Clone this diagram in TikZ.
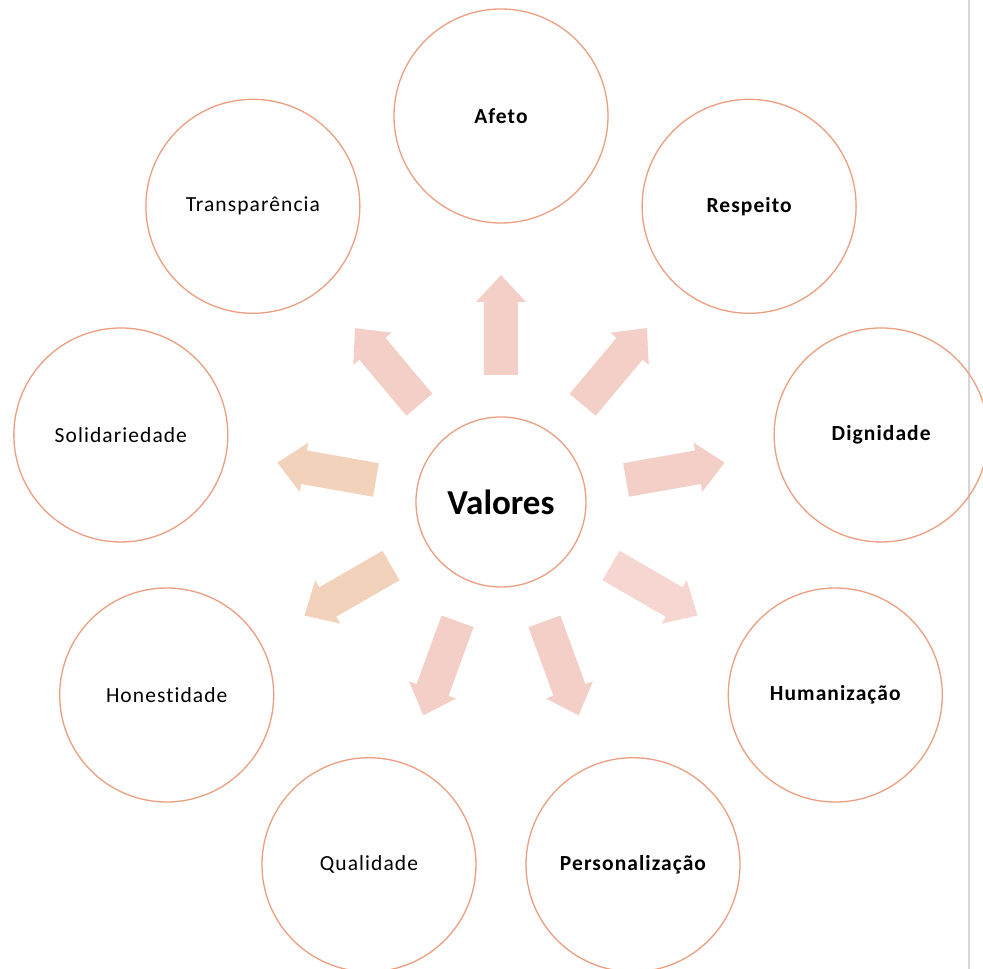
\documentclass[tikz,border=0pt]{standalone}
\usepackage{fontspec}
\setmainfont{Carlito}[LetterSpace=5,RawFeature=-liga]
\newfontfamily\hubfont{Carlito}
\definecolor{ring}{RGB}{236,158,128}
\definecolor{arrpink}{RGB}{243,207,199}
\definecolor{arrpeach}{RGB}{242,210,186}
\definecolor{arrlight}{RGB}{245,214,208}
\definecolor{pageline}{RGB}{214,214,214}
\newcommand{\blockarr}[2]{%
  \begin{scope}[rotate=#1]
    \fill[#2] (127,-17) -- (200,-17) -- (200,-25) -- (227,0) -- (200,25) -- (200,17) -- (127,17) -- cycle;
  \end{scope}}
\tikzset{
  ring/.style={circle, draw=ring, line width=1.3pt, minimum size=214pt, inner sep=0pt,
    font=\fontsize{21.5}{25}\selectfont},
  ringb/.style={ring, font=\fontsize{21.5}{25}\selectfont\bfseries},
  hub/.style={circle, draw=ring, line width=1.3pt, minimum size=170pt, inner sep=0pt,
    font=\hubfont\fontsize{35}{40}\selectfont\bfseries}
}
\begin{document}
\begin{tikzpicture}[x=1pt,y=1pt]
\useasboundingbox (-501,-467) rectangle (482,502);
\fill[white] (-501,-467) rectangle (482,502);
\draw[pageline, line width=2pt] (468,-467) -- (468,502);
% arrows
\blockarr{90}{arrpink}
\blockarr{130}{arrpink}
\blockarr{50}{arrpink}
\blockarr{170}{arrpeach}
\blockarr{10}{arrpink}
\blockarr{210}{arrpeach}
\blockarr{250}{arrpink}
\blockarr{290}{arrpink}
\blockarr{330}{arrlight}
% nodes
\node[hub] (valores) at (0,0) {Valores};
\node[ringb] (afeto) at (90:386) {Afeto};
\node[ring] (transp) at (130:386) {Transparência};
\node[ringb] (respeito) at (50:386) {Respeito};
\node[ring] (solid) at (170:386) {Solidariedade};
\node[ringb] (dign) at (10:386) {Dignidade};
\node[ring] (hon) at (210:386) {Honestidade};
\node[ringb] (human) at (330:386) {Humanização};
\node[ring] (qual) at (250:386) {Qualidade};
\node[ringb] (pers) at (290:386) {Personalização};
\end{tikzpicture}
\end{document}
